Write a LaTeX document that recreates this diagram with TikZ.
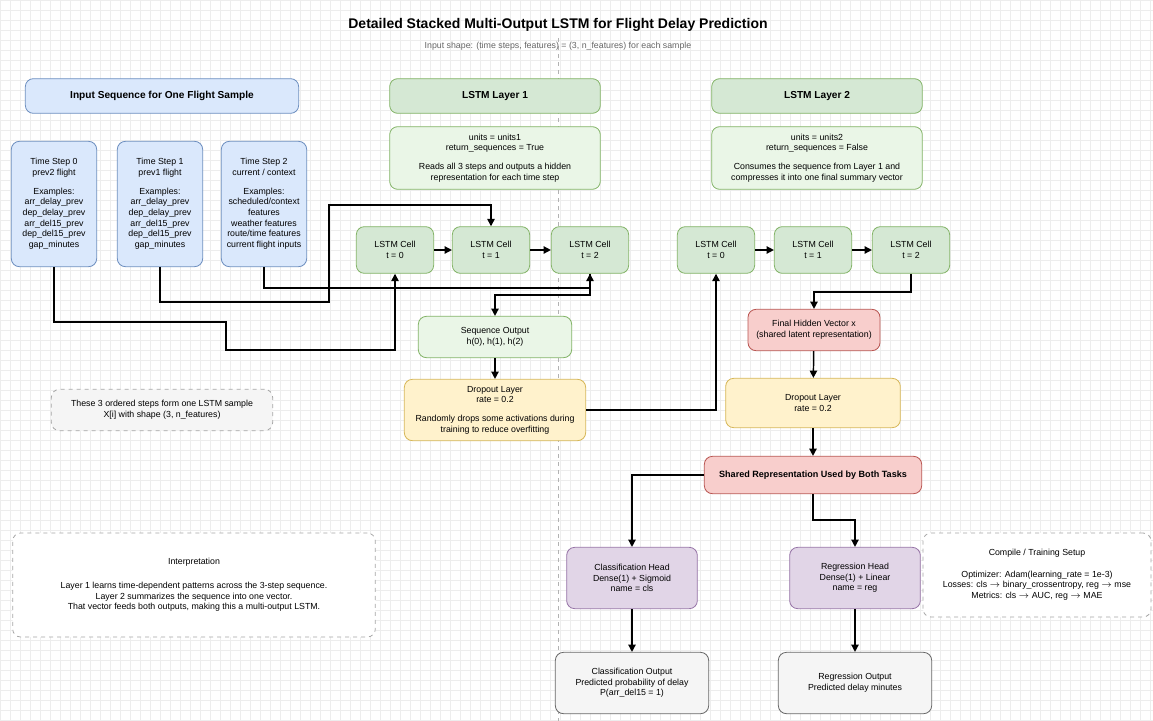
\documentclass[tikz,border=0pt]{standalone}
\usepackage{fontspec}
\setmainfont{Liberation Sans}
\usetikzlibrary{arrows.meta}
\definecolor{bluefill}{HTML}{DAE8FC}\definecolor{blueline}{HTML}{6C8EBF}
\definecolor{greenfill}{HTML}{D5E8D4}\definecolor{greenline}{HTML}{82B366}
\definecolor{palegreen}{HTML}{EAF6E7}
\definecolor{yellowfill}{HTML}{FFF2CC}\definecolor{yellowline}{HTML}{D6B656}
\definecolor{redfill}{HTML}{F8CECC}\definecolor{redline}{HTML}{B85450}
\definecolor{purplefill}{HTML}{E1D5E7}\definecolor{purpleline}{HTML}{9673A6}
\definecolor{grayfill}{HTML}{F5F5F5}\definecolor{grayline}{HTML}{666666}
\begin{document}
\begin{tikzpicture}[x=0.75pt,y=-0.75pt,>={Triangle[length=5.5pt,width=5.5pt]},
    font=\fontsize{6.6}{8}\selectfont,
    box/.style={rounded corners=6pt,draw,align=center,inner sep=1pt,line width=0.6pt},
    header/.style={box,font=\fontsize{7.6}{9}\selectfont\bfseries},
    step node/.style={box,fill=bluefill,draw=blueline,minimum width=64pt,minimum height=94pt},
    cell node/.style={box,fill=greenfill,draw=greenline,minimum width=58pt,minimum height=35pt},
    info node/.style={box,fill=palegreen,draw=greenline,minimum width=158pt,minimum height=47pt},
    note node/.style={box,dashed,draw=gray!70},
    flow/.style={->,line width=1.1pt}]
  \useasboundingbox (0,0) rectangle (1153,721);
  \draw[gray!14,line width=0.4pt,step=7.5pt] (0,0) grid (1153,721);
  \draw[gray!60,dashed,line width=0.5pt] (558,38) -- (558,721);

  \node[font=\fontsize{10.5}{12}\selectfont\bfseries] (title) at (558,25) {Detailed Stacked Multi-Output LSTM for Flight Delay Prediction};
  \node[text=gray!80!black,font=\fontsize{6.6}{8}\selectfont] (subtitle) at (558,46) {Input shape: (time steps, features) = (3, n\_features) for each sample};

  % input side
  \node[header,fill=bluefill,draw=blueline,minimum width=205pt,minimum height=26pt] (inhead) at (162,96) {Input Sequence for One Flight Sample};
  \node[step node] (ts0) at (54,204) {Time Step 0\\prev2 flight\\[6pt]Examples:\\arr\_delay\_prev\\dep\_delay\_prev\\arr\_del15\_prev\\dep\_del15\_prev\\gap\_minutes};
  \node[step node] (ts1) at (160,204) {Time Step 1\\prev1 flight\\[6pt]Examples:\\arr\_delay\_prev\\dep\_delay\_prev\\arr\_del15\_prev\\dep\_del15\_prev\\gap\_minutes};
  \node[step node] (ts2) at (264,204) {Time Step 2\\current / context\\[6pt]Examples:\\scheduled/context\\features\\weather features\\route/time features\\current flight inputs};
  \node[note node,fill=grayfill,minimum width=166pt,minimum height=31pt] (samplenote) at (162,410) {These 3 ordered steps form one LSTM sample\\X[i] with shape (3, n\_features)};
  \node[note node,fill=white,minimum width=272pt,minimum height=78pt] (interp) at (194,585) {Interpretation\\[10pt]Layer 1 learns time-dependent patterns across the 3-step sequence.\\Layer 2 summarizes the sequence into one vector.\\That vector feeds both outputs, making this a multi-output LSTM.};

  % layer 1
  \node[header,fill=greenfill,draw=greenline,minimum width=158pt,minimum height=26pt] (l1head) at (495,96) {LSTM Layer 1};
  \node[info node] (l1info) at (495,158) {units = units1\\return\_sequences = True\\[6pt]Reads all 3 steps and outputs a hidden\\representation for each time step};
  \node[cell node] (a0) at (395,250) {LSTM Cell\\t = 0};
  \node[cell node] (a1) at (491,250) {LSTM Cell\\t = 1};
  \node[cell node] (a2) at (590,250) {LSTM Cell\\t = 2};
  \node[box,fill=palegreen,draw=greenline,minimum width=115pt,minimum height=31pt] (seqout) at (495,337) {Sequence Output\\h(0), h(1), h(2)};
  \node[box,fill=yellowfill,draw=yellowline,minimum width=136pt,minimum height=46pt] (drop1) at (495,410) {Dropout Layer\\rate = 0.2\\[6pt]Randomly drops some activations during\\training to reduce overfitting};

  % layer 2
  \node[header,fill=greenfill,draw=greenline,minimum width=158pt,minimum height=26pt] (l2head) at (817,96) {LSTM Layer 2};
  \node[info node] (l2info) at (817,158) {units = units2\\return\_sequences = False\\[6pt]Consumes the sequence from Layer 1 and\\compresses it into one final summary vector};
  \node[cell node] (b0) at (716,250) {LSTM Cell\\t = 0};
  \node[cell node] (b1) at (813,250) {LSTM Cell\\t = 1};
  \node[cell node] (b2) at (911,250) {LSTM Cell\\t = 2};
  \node[box,fill=redfill,draw=redline,minimum width=99pt,minimum height=31pt] (final) at (814,330) {Final Hidden Vector x\\(shared latent representation)};
  \node[box,fill=yellowfill,draw=yellowline,minimum width=131pt,minimum height=37pt] (drop2) at (813,403) {Dropout Layer\\rate = 0.2};
  \node[header,fill=redfill,draw=redline,minimum width=163pt,minimum height=28pt,font=\fontsize{6.8}{8}\selectfont\bfseries] (shared) at (813,475) {Shared Representation Used by Both Tasks};

  % heads
  \node[box,fill=purplefill,draw=purpleline,minimum width=98pt,minimum height=46pt] (clshead) at (632,578) {Classification Head\\Dense(1) + Sigmoid\\name = cls};
  \node[box,fill=purplefill,draw=purpleline,minimum width=98pt,minimum height=46pt] (reghead) at (855,578) {Regression Head\\Dense(1) + Linear\\name = reg};
  \node[box,fill=grayfill,draw=grayline,minimum width=115pt,minimum height=46pt] (clsout) at (632,683) {Classification Output\\Predicted probability of delay\\P(arr\_del15 = 1)};
  \node[box,fill=grayfill,draw=grayline,minimum width=115pt,minimum height=46pt] (regout) at (855,683) {Regression Output\\Predicted delay minutes};
  \node[note node,fill=white,minimum width=171pt,minimum height=63pt] (compile) at (1037,575) {Compile / Training Setup\\[8pt]Optimizer: Adam(learning\_rate = 1e-3)\\Losses: cls $\rightarrow$ binary\_crossentropy, reg $\rightarrow$ mse\\Metrics: cls $\rightarrow$ AUC, reg $\rightarrow$ MAE};

  % connectors
  \draw[flow] (ts0.south) |- (226,322) |- (395,350) -- (a0.south);
  \draw[flow] (ts1.south) |- (329,302) |- (491,205) -- (a1.north);
  \draw[flow] (ts2.south) |- (590,288) -- (a2.south);
  \draw[flow] (a0) -- (a1);
  \draw[flow] (a1) -- (a2);
  \draw[flow] (a2.south) |- (495,295) -- (seqout.north);
  \draw[flow] (seqout) -- (drop1);
  \draw[flow] (drop1.east) -| (b0.south);
  \draw[flow] (b0) -- (b1);
  \draw[flow] (b1) -- (b2);
  \draw[flow] (b2.south) |- (814,292) -- (final.north);
  \draw[flow] (final) -- (drop2);
  \draw[flow] (drop2) -- (shared);
  \draw[flow] (shared.west) -| (clshead.north);
  \draw[flow] (shared.south) |- (855,520) -- (reghead.north);
  \draw[flow] (clshead) -- (clsout);
  \draw[flow] (reghead) -- (regout);
\end{tikzpicture}
\end{document}
